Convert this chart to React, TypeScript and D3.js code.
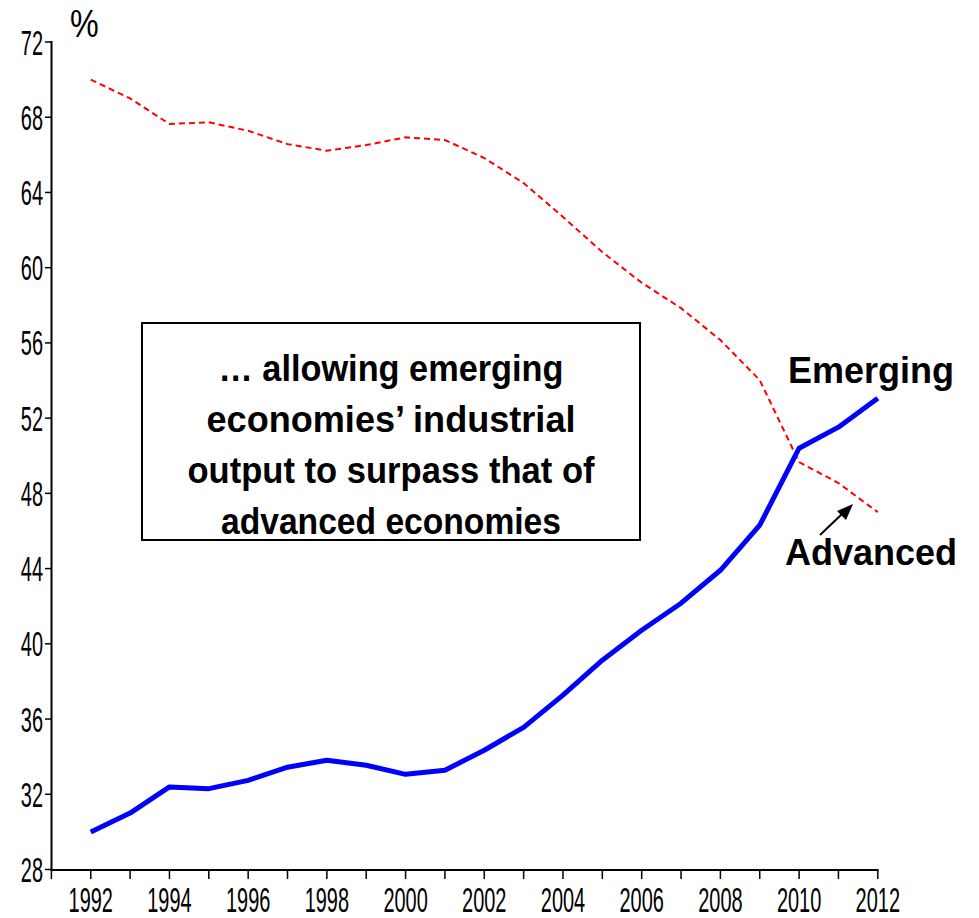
import React from "react";
import * as d3 from "d3";

const years = [1992,1993,1994,1995,1996,1997,1998,1999,2000,2001,2002,2003,2004,2005,2006,2007,2008,2009,2010,2011,2012];
const advanced = [70.0,69.0,67.64,67.73,67.28,66.57,66.22,66.52,66.93,66.79,65.83,64.5,62.7,60.83,59.2,57.85,56.15,54.02,49.66,48.55,47.0];
const emerging = [30.0,31.0,32.39,32.3,32.74,33.44,33.81,33.54,33.06,33.28,34.34,35.56,37.27,39.13,40.72,42.16,43.91,46.31,50.4,51.52,53.06];
const yTicks = [28,32,36,40,44,48,52,56,60,64,68,72];
const xTickYears = d3.range(1991, 2013);
const xLabelYears = [1992,1994,1996,1998,2000,2002,2004,2006,2008,2010,2012];
const boxLines = ["\u2026 allowing emerging", "economies\u2019 industrial", "output to surpass that of", "advanced economies"];
const boxLineWidths = [345, 369, 407, 340];

export default function App() {
  const x = d3.scaleLinear().domain([1991, 2012]).range([51.4, 877.8]);
  const y = d3.scaleLinear().domain([28, 72]).range([869.5, 42]);
  const line = d3.line<number>().x((_, i) => x(years[i])).y((v) => y(v));
  const font = "'Liberation Sans', Arial, sans-serif";
  const sx = 0.57;
  return (
    <svg width={979} height={918} style={{ position: "absolute", left: 0, top: 0, background: "#fff" }} fontFamily={font}>
      <rect x={0} y={0} width={979} height={918} fill="#fff" />
      {/* axes */}
      <line x1={51.5} x2={51.5} y1={41} y2={870} stroke="#000" strokeWidth={2} />
      <line x1={50.5} x2={878.5} y1={870} y2={870} stroke="#000" strokeWidth={2} />
      {yTicks.map((t) => (
        <g key={t}>
          <line x1={45} x2={51} y1={y(t)} y2={y(t)} stroke="#000" strokeWidth={1.5} />
          <g transform={`translate(43,${y(t) + 12.5}) scale(${sx},1)`}>
            <text x={0} y={0} textAnchor="end" fontSize={35} fill="#000">{t}</text>
          </g>
        </g>
      ))}
      {xTickYears.map((yr) => (
        <line key={yr} x1={x(yr)} x2={x(yr)} y1={870} y2={879} stroke="#000" strokeWidth={1.5} />
      ))}
      {xLabelYears.map((yr) => (
        <g key={yr} transform={`translate(${x(yr)},912) scale(${sx},1)`}>
          <text x={0} y={0} textAnchor="middle" fontSize={35} fill="#000">{yr}</text>
        </g>
      ))}
      <g transform="translate(70,37) scale(0.85,1)">
        <text x={0} y={0} fontSize={38} fill="#000">%</text>
      </g>
      {/* series */}
      <path d={line(advanced) || ""} fill="none" stroke="#ff0000" strokeWidth={2} strokeDasharray="6,4" />
      <path d={line(emerging) || ""} fill="none" stroke="#0000ff" strokeWidth={5} strokeLinejoin="round" />
      {/* annotation box */}
      <rect x={142} y={323} width={498} height={217} fill="#fff" stroke="#000" strokeWidth={2} />
      {boxLines.map((l, i) => (
        <text key={i} x={391} y={381 + i * 51} textAnchor="middle" fontSize={37} fontWeight="bold" fill="#000"
          textLength={boxLineWidths[i]} lengthAdjust="spacingAndGlyphs">{l}</text>
      ))}
      {/* labels */}
      <text x={788} y={383} fontSize={36} fontWeight="bold" fill="#000">Emerging</text>
      <text x={785} y={565} fontSize={36} fontWeight="bold" fill="#000">Advanced</text>
      <line x1={820} y1={535} x2={842} y2={514} stroke="#000" strokeWidth={2} />
      <path d="M853,504 L846,520 L837,511 Z" fill="#000" />
    </svg>
  );
}
